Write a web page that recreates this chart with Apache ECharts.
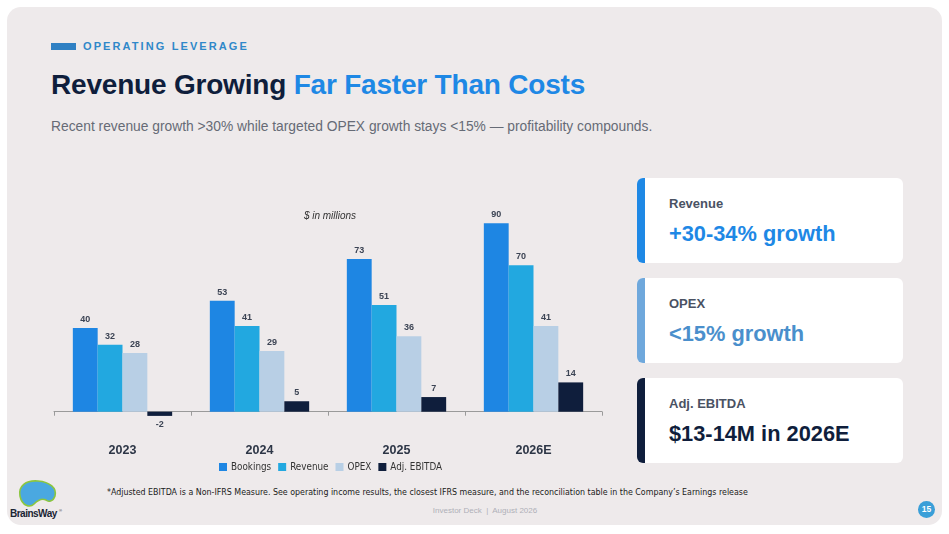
<!DOCTYPE html>
<html><head><meta charset="utf-8">
<script src="https://cdn.jsdelivr.net/npm/echarts@6/dist/echarts.min.js"></script>
<style>
html,body{margin:0;padding:0;width:949px;height:534px;background:#fff;overflow:hidden;font-family:"Liberation Sans",Arial,sans-serif;}
#panel{position:absolute;left:7px;top:7px;width:935px;height:518px;background:#eeeaeb;border-radius:14px;}
.abs{position:absolute;white-space:nowrap;}
#kbar{left:51px;top:43px;width:25px;height:7px;background:#2f80c3;}
#kicker{left:83px;top:39px;font-size:11px;font-weight:bold;letter-spacing:2.1px;color:#2f88c9;line-height:14px;}
#title{left:51px;top:68px;font-size:28px;font-weight:bold;color:#0f1e3c;line-height:34px;letter-spacing:-0.2px;}
#title span{color:#1e88e5;}
#sub{left:51px;top:118px;font-size:13.8px;color:#666b76;line-height:18px;}
.card{position:absolute;left:637px;width:266px;height:85px;background:#fff;border-radius:6px;overflow:hidden;}
.card .bd{position:absolute;left:0;top:0;width:8px;height:100%;}
.card .lb{position:absolute;left:32px;top:18px;font-size:13px;font-weight:bold;color:#4a5263;}
.card .vl{position:absolute;left:32px;top:43px;font-size:21.8px;font-weight:bold;}
#chart{position:absolute;left:0;top:0;width:949px;height:534px;}
#foot{left:107px;top:487px;font-size:8.8px;color:#1a1a1a;font-family:"DejaVu Sans Condensed","DejaVu Sans",sans-serif;}
#deck{left:0;width:970px;text-align:center;top:506px;font-size:8px;color:#aeb0b8;}
#badge{left:918px;top:501px;width:17px;height:17px;border-radius:50%;background:#3a9fd8;color:#fff;font-size:8.5px;font-weight:bold;text-align:center;line-height:17px;}
#logo{left:8px;top:476px;}
</style></head>
<body>
<div id="panel"></div>
<div class="abs" id="kbar"></div>
<div class="abs" id="kicker">OPERATING LEVERAGE</div>
<div class="abs" id="title">Revenue Growing <span>Far Faster Than Costs</span></div>
<div class="abs" id="sub">Recent revenue growth &gt;30% while targeted OPEX growth stays &lt;15% — profitability compounds.</div>
<div class="card" style="top:178px"><div class="bd" style="background:#1e88e5"></div><div class="lb">Revenue</div><div class="vl" style="color:#1e88e5">+30-34% growth</div></div>
<div class="card" style="top:278px"><div class="bd" style="background:#6fa8dc"></div><div class="lb">OPEX</div><div class="vl" style="color:#4a8fcc">&lt;15% growth</div></div>
<div class="card" style="top:378px"><div class="bd" style="background:#0f1e3c"></div><div class="lb">Adj. EBITDA</div><div class="vl" style="color:#0f1e3c">$13-14M in 2026E</div></div>
<div class="abs" id="foot">*Adjusted EBITDA is a Non-IFRS Measure. See operating income results, the closest IFRS measure, and the reconciliation table in the Company’s Earnings release</div>
<div class="abs" id="deck">Investor Deck&nbsp; |&nbsp; August 2026</div>
<div class="abs" id="badge">15</div>
<div class="abs" id="logo">
<svg width="60" height="48" viewBox="0 0 60 48">
<path d="M12 20 C10 10 18 4 30 5 C42 6 49 12 47 20 C45 26 40 26 38 24 C34 22 30 24 26 28 C22 32 14 30 12 20 Z" fill="#4aa8e0" stroke="#8cc63f" stroke-width="1.6"/>
<text x="2" y="41" font-family="Liberation Sans" font-weight="bold" font-size="10" fill="#1a2433" letter-spacing="-0.5">BrainsWay</text>
<text x="51" y="36" font-family="Liberation Sans" font-size="4" fill="#1a2433">®</text>
</svg>
</div>
<div id="chart"></div>
<script>
const categories = ['2023','2024','2025','2026E'];
const bookings = [40, 53, 73, 90];
const revenue = [32, 41, 51, 70];
const opex = [28, 29, 36, 41];
const ebitda = [-2, 5, 7, 14];
const seriesNames = ['Bookings','Revenue','OPEX','Adj. EBITDA'];
const colors = ['#1e86e3','#22a8e0','#b8cfe5','#0f1e3c'];

const condensed = '"DejaVu Sans Condensed","DejaVu Sans",sans-serif';
const chart = echarts.init(document.getElementById('chart'), null, {renderer:'canvas'});
function toData(arr){
  return arr.map(v => ({value:v, label:{position: v < 0 ? 'bottom' : 'top'}}));
}
const allSeries = [bookings, revenue, opex, ebitda].map((arr,i)=>({
  name: seriesNames[i], type:'bar', data: toData(arr),
  barGap:'0%', barCategoryGap:'27.5%',
  itemStyle:{color:colors[i]},
  label:{show:true, distance:4, fontSize:9, fontWeight:'bold', color:'#3c4454', fontFamily:'Liberation Sans'}
}));
chart.setOption({
  animation:false,
  color: colors,
  title:{text:'$ in millions', left:325, top:206, textAlign:'center',
    textStyle:{fontSize:10, fontStyle:'italic', fontWeight:'normal', color:'#333', fontFamily:'Liberation Sans'}},
  legend:{data:seriesNames, left:219, top:462, itemWidth:8, itemHeight:8, itemGap:7, icon:'rect',
    textStyle:{fontSize:9.8, color:'#333', fontFamily:condensed, padding:[0,0,0,-1]}, padding:0,
    selectedMode:false},
  grid:{left:54, width:548, top:223.3, height:192.6, containLabel:false},
  xAxis:{type:'category', data:categories,
    axisLine:{show:true, onZero:true, lineStyle:{color:'#9a9a9a', width:1}},
    axisTick:{show:true, length:4, lineStyle:{color:'#9a9a9a'}},
    axisLabel:{margin:28, fontSize:12.5, fontWeight:'bold', color:'#2d3646', fontFamily:'Liberation Sans'}},
  yAxis:{type:'value', min:-2, max:90, show:false, splitLine:{show:false}},
  series: allSeries
});
</script>
</body></html>
